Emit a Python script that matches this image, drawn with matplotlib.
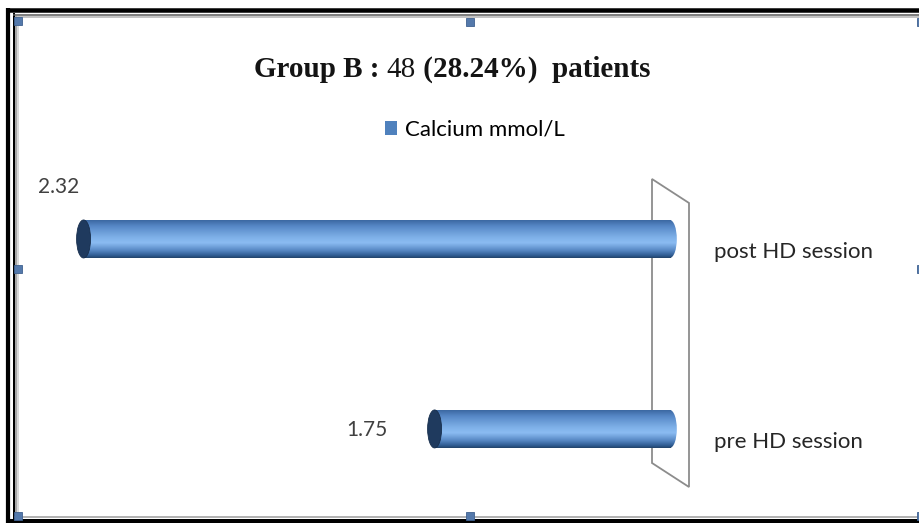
import numpy as np
import matplotlib
matplotlib.use("Agg")
import matplotlib.pyplot as plt
from matplotlib.patches import Ellipse, Rectangle, Polygon, Patch
from matplotlib.colors import LinearSegmentedColormap

# chart data
categories = ["pre HD session", "post HD session"]
calcium = [1.75, 2.32]
value_labels = ["1.75", "2.32"]
series_name = "Calcium mmol/L"
title_parts = ["Group B : ", "48", " (28.24%)  patients"]
title_weights = ["bold", "normal", "bold"]

# layout / style (pixels of the 920x523 picture)
W, H = 920, 523
AXIS_MIN = 1.368          # value where the 3D wall sits
BAR_H = 0.2
CAP_W = 0.0227
label_offsets = [(-68, -1), (-25, 52)]
cat_offset = (44, -13)
LABEL_FONT = ["Lato", "DejaVu Sans"]

fig = plt.figure(figsize=(W / 100, H / 100), dpi=100)
fig.patch.set_facecolor("white")

# background axes in pixel coords for frame, wall, handles
bg = fig.add_axes([0, 0, 1, 1], zorder=0)
bg.set_xlim(0, W)
bg.set_ylim(H, 0)
bg.axis("off")


def hline(y, x0, x1, color, lw_px):
    bg.plot([x0, x1], [y, y], color=color, lw=lw_px * 0.72,
            solid_capstyle="butt")


def vline(x, y0, y1, color, lw_px):
    bg.plot([x, x], [y0, y1], color=color, lw=lw_px * 0.72,
            solid_capstyle="butt")


# outer black frame
hline(10.3, 6, W, "black", 4.5)
vline(8.5, 8, H, "black", 4.2)
hline(521.3, 6, W, "black", 4)
# inner frame with soft shadow
vline(14.3, 13, 520, "black", 2)
vline(16.3, 16, 517, "#8a8a8a", 1.5)
vline(18.0, 17, 516, "#cfcfcf", 1.5)
hline(14.8, 13, W, "#555555", 1.5)
hline(16.5, 15, W, "#b0b0b0", 1.5)
hline(517.3, 14, W, "#9a9a9a", 1.5)

# selection handles
for hx, hy in [(14, 17), (466, 18), (917, 18), (14, 265), (917, 265),
               (14, 512), (466, 512), (917, 512)]:
    bg.add_patch(Rectangle((hx, hy), 8, 8, fc="#5479ab", ec="#3f618f",
                           lw=0.6, zorder=5))

# the 3D wall
bg.add_patch(Polygon([(652, 179), (689, 203), (689, 487), (652, 463)],
                     closed=True, fill=False, ec="#8c8c8c", lw=1.3))

# data axes
ax = fig.add_axes([30 / W, (H - 500) / H, 670 / W, 330 / H], zorder=1)
ax.patch.set_alpha(0)
ax.axis("off")

cyl = LinearSegmentedColormap.from_list("cyl", [
    (0.0, "#3c69a3"), (0.15, "#5687c6"), (0.45, "#7eb0e8"),
    (0.6, "#8bbcf2"), (0.8, "#5889c5"), (0.94, "#2f5b92"),
    (1.0, "#22446c")])
grad = cyl(np.linspace(0, 1, 64))[:, None, :3]

for i, (cat, val) in enumerate(zip(categories, calcium)):
    y0, y1 = i - BAR_H / 2, i + BAR_H / 2
    # body
    body = Rectangle((val, y0), AXIS_MIN - val, BAR_H, transform=ax.transData)
    im = ax.imshow(grad, extent=(val, AXIS_MIN, y0, y1), aspect="auto",
                   origin="upper", zorder=2)
    im.set_clip_path(body)
    # rounded end at the wall
    end = Ellipse((AXIS_MIN, i), CAP_W, BAR_H, transform=ax.transData)
    im2 = ax.imshow(grad, extent=(AXIS_MIN + CAP_W, AXIS_MIN - CAP_W, y0, y1),
                    aspect="auto", origin="upper", zorder=2)
    im2.set_clip_path(end)
    # visible end face
    ax.add_patch(Ellipse((val, i), CAP_W, BAR_H, fc="#1f3a5e", ec="#182f4d",
                         lw=0.6, zorder=3))
    # value label
    ax.annotate(value_labels[i], xy=(val, i), xytext=label_offsets[i],
                textcoords="offset pixels", ha="center", va="center",
                fontsize=15, color="#404040", family=LABEL_FONT)
    # category label
    ax.annotate(cat, xy=(AXIS_MIN, i), xytext=cat_offset,
                textcoords="offset pixels", ha="left", va="center",
                fontsize=16, color="#262626", family=LABEL_FONT)

ax.set_xlim(2.407, 1.319)
ax.set_ylim(-0.374, 1.363)

# legend
fig.legend(handles=[Patch(fc="#4f81bd", ec="none", label=series_name)],
           loc="center", bbox_to_anchor=(475 / W, 1 - 130 / H),
           frameon=False, handlelength=0.55, handleheight=0.55,
           handletextpad=0.35, prop={"family": LABEL_FONT, "size": 16})

# title made of pieces so that "48" is not bold
renderer = fig.canvas.get_renderer()
x = 254 / W
for part, wt in zip(title_parts, title_weights):
    t = fig.text(x, 1 - 77 / H, part, fontsize=21, weight=wt,
                 family="Liberation Serif", color="#141414", va="baseline",
                 ha="left")
    bb = t.get_window_extent(renderer)
    x = bb.x1 / W

fig.savefig("out.png", dpi=100)
